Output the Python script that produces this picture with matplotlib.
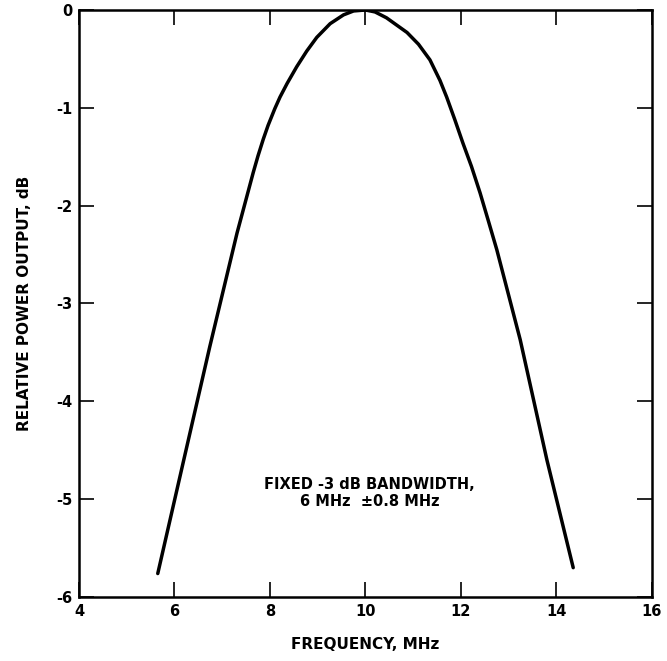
import matplotlib.pyplot as plt

# frequency (MHz) and relative power (dB)
freq = [5.65, 6.18, 6.74, 7.31, 7.65, 7.75, 7.86, 7.96, 8.10, 8.21, 8.36, 8.56, 8.77,
        8.98, 9.26, 9.54, 9.75, 10.0, 10.2, 10.44, 10.87, 11.11, 11.35, 11.56, 11.70, 11.87,
        12.04, 12.22, 12.40, 12.57, 12.75, 13.24, 13.80, 14.35]
power = [-5.76, -4.63, -3.44, -2.28, -1.66, -1.49, -1.32, -1.18, -1.01, -0.89, -0.75,
         -0.58, -0.42, -0.28, -0.14, -0.05, -0.01, 0.0, -0.02, -0.08, -0.23, -0.35, -0.51,
         -0.72, -0.89, -1.12, -1.36, -1.60, -1.87, -2.15, -2.45, -3.37, -4.60, -5.70]
xticks = [4, 6, 8, 10, 12, 14, 16]
yticks = [0, -1, -2, -3, -4, -5, -6]

plt.rcParams['font.family'] = 'DejaVu Sans'
fig = plt.figure(figsize=(6.67, 6.61), dpi=100)
ax = fig.add_axes([0.1184, 0.0968, 0.8591, 0.8881])

ax.plot(freq, power, color='black', lw=2.5, solid_capstyle='round', solid_joinstyle='round')

ax.set_xlim(4, 16)
ax.set_ylim(-6, 0)
ax.set_xticks(xticks)
ax.set_yticks(yticks)
ax.set_xticklabels([str(t) for t in xticks], fontweight='bold', fontsize=10.5)
ax.set_yticklabels([str(t) for t in yticks], fontweight='bold', fontsize=10.5)
ax.tick_params(direction='in', length=11, width=1.2, top=True, right=True, pad=5)
for s in ax.spines.values():
    s.set_linewidth(1.8)

ax.set_xlabel('FREQUENCY, MHz', fontweight='bold', fontsize=11, labelpad=13)
ax.set_ylabel('RELATIVE POWER OUTPUT, dB', fontweight='bold', fontsize=11, labelpad=17)

ax.text(10.09, -4.94, 'FIXED -3 dB BANDWIDTH,\n6 MHz  \u00b10.8 MHz', ha='center', va='center',
        fontweight='bold', fontsize=10.5, linespacing=1.15)

fig.savefig('out.png', dpi=100)
